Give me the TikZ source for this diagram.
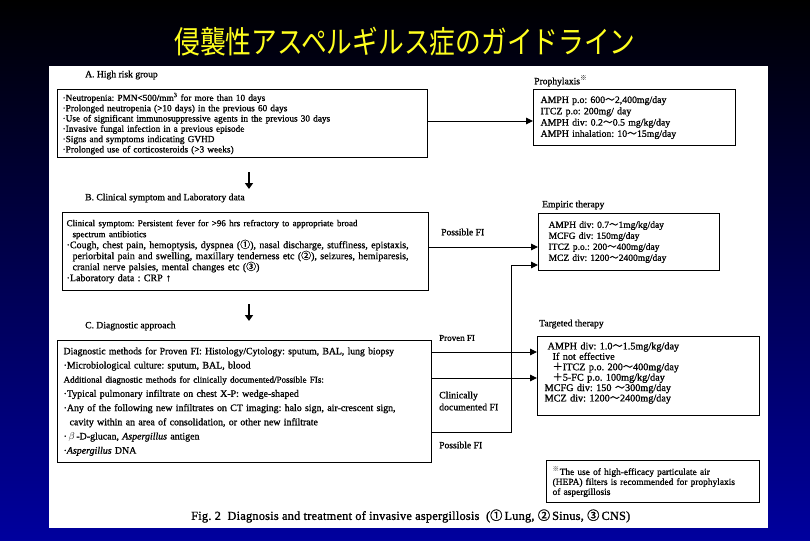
\documentclass[tikz,border=0pt]{standalone}
\usepackage{fontspec}
\setmainfont{Liberation Serif}[FakeBold=0.9]
\newfontfamily\cjk{Noto Sans CJK JP}
\newfontfamily\cjkb{Noto Sans CJK JP}[FakeBold=0.6]
\newfontfamily\titlefont{Noto Sans CJK JP}[FakeStretch=0.83]
\newfontfamily\capfont{Liberation Serif}[FakeBold=1.2, LetterSpace=2]
\usetikzlibrary{arrows.meta,calc}
\newcommand{\tld}{{\cjkb ～}}
\newcommand{\circd}[1]{{\cjkb #1}}
\newcommand{\smallline}[1]{{\fontsize{9}{11}\selectfont #1}}
\definecolor{navybot}{RGB}{0,0,158}
\definecolor{titleyellow}{RGB}{255,255,30}
\tikzset{
  box/.style={draw, line width=1.2pt, inner ysep=0pt, align=left, anchor=north west},
  lbl/.style={anchor=west, inner sep=0pt, font=\fontsize{9.6}{11}\selectfont},
  arr/.style={line width=0.9pt, -{Triangle[length=7pt,width=6.5pt]}},
  darr/.style={line width=2pt, -{Triangle[length=6pt,width=8pt]}}
}
\begin{document}
\frenchspacing
\begin{tikzpicture}[x=1pt,y=-1pt]
\useasboundingbox (0,0) rectangle (810,540);
\shade[top color=black, bottom color=navybot] (0,0) rectangle (810,540);
\node[text=titleyellow, font=\titlefont\fontsize{31}{31}\selectfont, inner sep=0pt] (title) at (405,42) {侵襲性アスペルギルス症のガイドライン};
\node[fill=white, minimum width=719pt, minimum height=462pt, anchor=north west, inner sep=0pt] (panel) at (49,66) {};

% section labels
\node[lbl] (la) at (85,75) {A. High risk group};
\node[lbl] (lb) at (85,198) {B. Clinical symptom and Laboratory data};
\node[lbl] (lc) at (85,326) {C. Diagnostic approach};
\node[lbl] (lp) at (534,81) {Prophylaxis\textsuperscript{\cjk ※}};
\node[lbl] (le) at (542,205) {Empiric therapy};
\node[lbl] (lt) at (539,324) {Targeted therapy};

% box A
\node[box, minimum width=370pt, minimum height=68pt, inner xsep=5pt, text width=360pt,
      font=\fontsize{9.3}{10.3}\selectfont] (A) at (57,89) {%
·Neutropenia: PMN<500/mm\textsuperscript{3} for more than 10 days\\
·Prolonged neutropenia (>10 days) in the previous 60 days\\
·Use of significant immunosuppressive agents in the previous 30 days\\
·Invasive fungal infection in a previous episode\\
·Signs and symptoms indicating GVHD\\
·Prolonged use of corticosteroids (>3 weeks)};

% box P
\node[box, minimum width=202pt, minimum height=56pt, inner xsep=7pt, text width=188pt,
      font=\fontsize{9.8}{11.3}\selectfont] (P) at (533,89) {%
AMPH p.o: 600\tld 2,400mg/day\\
ITCZ p.o: 200mg/ day\\
AMPH div: 0.2\tld 0.5 mg/kg/day\\
AMPH inhalation: 10\tld 15mg/day};

% box B
\node[box, minimum width=366pt, minimum height=78pt, inner xsep=4pt, text width=358pt,
      font=\fontsize{10}{11}\selectfont] (B) at (62,212) {%
\smallline{Clinical symptom: Persistent fever for >96 hrs refractory to appropriate broad}\\
\hspace*{6pt}\smallline{spectrum antibiotics}\\
·Cough, chest pain, hemoptysis, dyspnea (\circd{①}), nasal discharge, stuffiness, epistaxis,\\
\hspace*{6pt}periorbital pain and swelling, maxillary tenderness etc (\circd{②}), seizures, hemiparesis,\\
\hspace*{6pt}cranial nerve palsies, mental changes etc (\circd{③})\\
·Laboratory data : CRP ↑};

% box E
\node[box, minimum width=181pt, minimum height=57pt, inner xsep=10pt, text width=161pt,
      font=\fontsize{9.5}{11}\selectfont] (E) at (538,213) {%
AMPH div: 0.7\tld 1mg/kg/day\\
MCFG div: 150mg/day\\
ITCZ p.o.: 200\tld 400mg/day\\
MCZ div: 1200\tld 2400mg/day};

% box C
\node[box, minimum width=374pt, minimum height=122pt, inner xsep=6pt, text width=362pt,
      font=\fontsize{9.9}{14.2}\selectfont] (C) at (57,340) {%
\mbox{{\fontsize{9.7}{11}\selectfont Diagnostic methods for Proven FI: Histology/Cytology: sputum, BAL, lung biopsy}}\\
·Microbiological culture: sputum, BAL, blood\\
\mbox{\smallline{Additional diagnostic methods for clinically documented/Possible FIs:}}\\
·Typical pulmonary infiltrate on chest X-P: wedge-shaped\\
\mbox{·Any of the following new infiltrates on CT imaging: halo sign, air-crescent sign,}\\
\hspace*{6pt}\mbox{cavity within an area of consolidation, or other new infiltrate}\\
·\,$\beta$\,-D-glucan, \textit{Aspergillus} antigen\\
·\textit{Aspergillus} DNA};

% box T
\node[box, minimum width=222pt, minimum height=79pt, inner xsep=7pt, text width=208pt,
      font=\fontsize{10.2}{10.4}\selectfont] (T) at (537,336) {%
\hspace*{3pt}AMPH div: 1.0\tld 1.5mg/kg/day\\
\hspace*{8pt}If not effective\\
\hspace*{8pt}{\cjkb ＋}ITCZ p.o. 200\tld 400mg/day\\
\hspace*{8pt}{\cjkb ＋}5-FC p.o. 100mg/kg/day\\
MCFG div: 150 \tld 300mg/day\\
MCZ div: 1200\tld 2400mg/day\\[-2pt]
\mbox{}};

% box F
\node[box, minimum width=213pt, minimum height=42pt, inner xsep=6pt, text width=201pt,
      font=\fontsize{9.4}{10}\selectfont] (F) at (546,460) {%
\textsuperscript{\cjk ※}The use of high-efficacy particulate air\\
(HEPA) filters is recommended for prophylaxis\\
of aspergillosis};

% connector labels
\node[lbl] (pb) at (441,232) {Possible FI};
\node[lbl, font=\fontsize{9}{10}\selectfont] (pr) at (439,338) {Proven FI};
\node[lbl, align=left, font=\fontsize{9.8}{12}\selectfont] (cd) at (439,401) {Clinically\\documented FI};
\node[lbl] (pc) at (439,445) {Possible FI};

% caption
\node[anchor=west, inner sep=0pt, font=\capfont\fontsize{12.3}{14}\selectfont] (cap) at (191,516)
  {Fig. 2\ \ Diagnosis and treatment of invasive aspergillosis \ (\circd{①}\,Lung, \circd{②}\,Sinus, \circd{③}\,CNS)};

% down arrows
\coordinate (d1a) at (249,172);
\coordinate (d1b) at (249,189);
\coordinate (d2a) at (249,304);
\coordinate (d2b) at (249,321);
\draw[darr] (d1a) -- (d1b);
\draw[darr] (d2a) -- (d2b);

% connectors
\draw[arr] (A.east |- 0,121) -- (P.west |- 0,121);
\draw[arr] (B.east |- 0,247) -- (E.west |- 0,247);
\draw[arr] (C.east |- 0,352) -- (T.west |- 0,352);
\draw[arr] (C.east |- 0,378) -- (T.west |- 0,378);
\coordinate (bend) at (511,432);
\draw[arr] (C.east |- bend) -- (bend) |- (E.west |- 0,265);
\end{tikzpicture}
\end{document}
